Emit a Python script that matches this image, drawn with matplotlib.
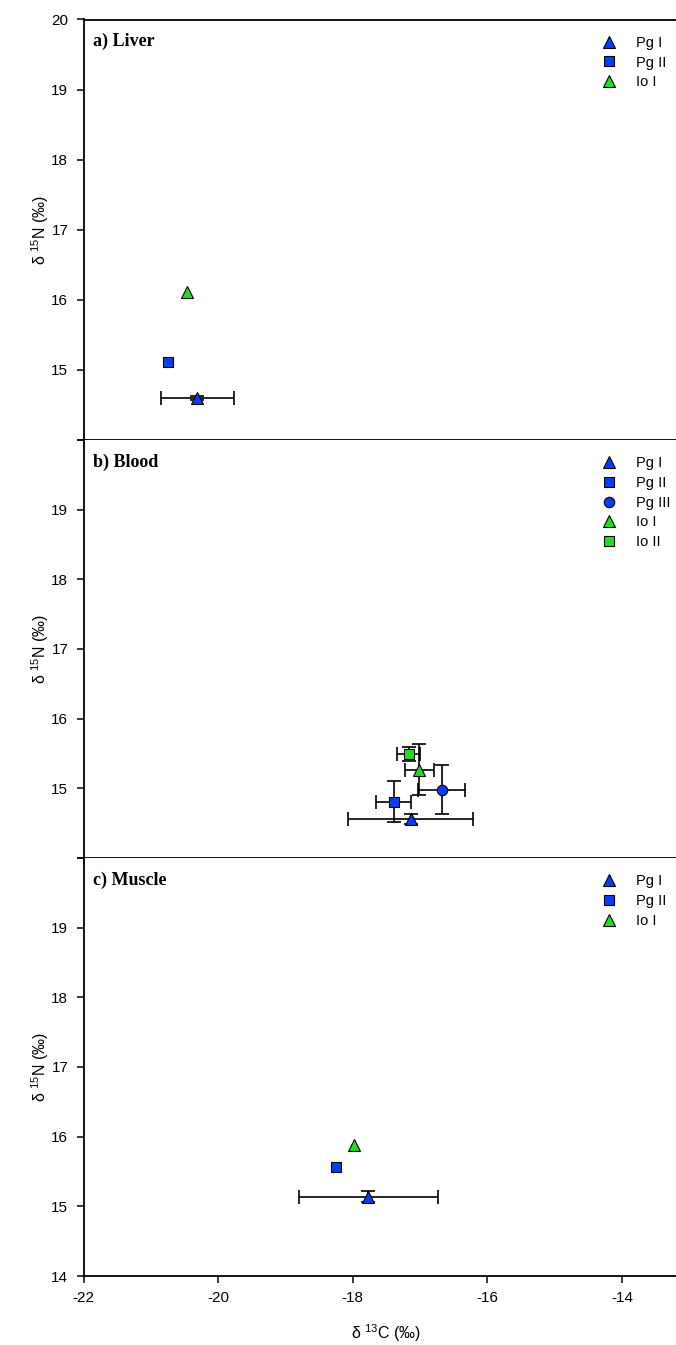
import numpy as np
import matplotlib.pyplot as plt

plt.rcParams['font.family'] = ['Liberation Sans', 'DejaVu Sans']
plt.rcParams['mathtext.fontset'] = 'custom'
plt.rcParams['mathtext.rm'] = 'Liberation Sans'
plt.rcParams['mathtext.it'] = 'Liberation Sans:italic'
plt.rcParams['axes.unicode_minus'] = False

# mean d13C / d15N (per mil) with SD, one set per tissue
liver_groups = ['Pg I', 'Pg II', 'Io I']
liver_c = [-20.31, -20.75, -20.46]
liver_n = [14.60, 15.12, 16.11]
liver_c_sd = [0.54, 0.0, 0.0]
liver_n_sd = [0.03, 0.0, 0.0]

blood_groups = ['Pg I', 'Pg II', 'Pg III', 'Io I', 'Io II']
blood_c = [-17.14, -17.39, -16.68, -17.01, -17.17]
blood_n = [14.56, 14.81, 14.98, 15.27, 15.49]
blood_c_sd = [0.93, 0.26, 0.35, 0.21, 0.17]
blood_n_sd = [0.065, 0.30, 0.35, 0.37, 0.10]

muscle_groups = ['Pg I', 'Pg II', 'Io I']
muscle_c = [-17.77, -18.25, -17.98]
muscle_n = [15.14, 15.56, 15.88]
muscle_c_sd = [1.03, 0.0, 0.0]
muscle_n_sd = [0.08, 0.0, 0.0]

titles = ['a) Liver', 'b) Blood', 'c) Muscle']

blue = '#0a3cf5'
green = '#22dd22'
styles = {
    'Pg I': ('^', blue, 8.5),
    'Pg II': ('s', blue, 7),
    'Pg III': ('o', blue, 7.5),
    'Io I': ('^', green, 8.5),
    'Io II': ('s', green, 7),
}

panels = [
    (liver_groups, liver_c, liver_n, liver_c_sd, liver_n_sd),
    (blood_groups, blood_c, blood_n, blood_c_sd, blood_n_sd),
    (muscle_groups, muscle_c, muscle_n, muscle_c_sd, muscle_n_sd),
]

W, H = 676, 1345
left_px, right_px = 83.6, 689.3
tops = [19.5, 440, 858]
bottoms = [440, 858, 1276]

fig = plt.figure(figsize=(W / 100, H / 100), dpi=100)

for i, (groups, cx, ny, csd, nsd) in enumerate(panels):
    ax = fig.add_axes([left_px / W, 1 - bottoms[i] / H,
                       (right_px - left_px) / W, (bottoms[i] - tops[i]) / H])
    for g, x, y, sx, sy in zip(groups, cx, ny, csd, nsd):
        m, col, ms = styles[g]
        if sx > 0 or sy > 0:
            ax.errorbar(x, y, xerr=sx if sx > 0 else None,
                        yerr=sy if sy > 0 else None, fmt='none',
                        ecolor='black', elinewidth=1.2, capsize=5,
                        capthick=1.2, zorder=2)
        ax.plot(x, y, linestyle='none', marker=m, ms=ms, mfc=col,
                mec='black', mew=0.8, label=g, zorder=3)

    ax.set_xlim(-22, -13)
    ax.set_ylim(14, 20)
    ax.set_xticks(np.arange(-22, -13, 2))
    ax.set_yticks(np.arange(14, 21, 1))
    ylabels = [str(v) for v in range(14, 21)]
    if i == 0:
        ylabels[0] = ''
    elif i == 1:
        ylabels[0] = ''
        ylabels[-1] = ''
    else:
        ylabels[-1] = ''
    ax.set_yticklabels(ylabels)
    if i < 2:
        ax.tick_params(axis='x', labelbottom=False)
    ax.tick_params(direction='out', length=5, width=1.1, labelsize=11,
                   pad=6, colors='black')
    for s in ['left', 'top', 'bottom']:
        ax.spines[s].set_linewidth(1.3)
    ax.spines['right'].set_visible(False)
    if i > 0:
        ax.spines['top'].set_visible(False)

    ax.annotate(titles[i], xy=(0, 1), xycoords='axes fraction',
                xytext=(9, -22), textcoords='offset pixels', va='center',
                ha='left', fontsize=13, fontweight='bold',
                family='Liberation Serif')

    ax.set_ylabel('δ $^{15}$N (‰)', fontsize=11.5, labelpad=0)

    ax.legend(loc='upper left', bbox_to_anchor=(0.856, 0.961),
              frameon=False, fontsize=10.5, handlelength=1.0,
              handletextpad=1.3, labelspacing=0.39, borderpad=0,
              borderaxespad=0)

    if i == 2:
        ax.set_xlabel('δ $^{13}$C (‰)', fontsize=11.5, labelpad=12)

fig.savefig('out.png', dpi=100)
